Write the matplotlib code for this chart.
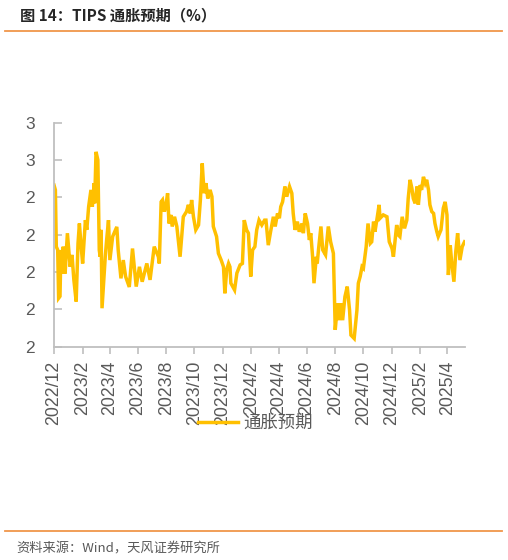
import matplotlib
matplotlib.use("Agg")
import matplotlib.pyplot as plt
import matplotlib.dates as mdates
from matplotlib.ticker import FuncFormatter, MultipleLocator
from matplotlib.lines import Line2D
import numpy as np
import pandas as pd

# days after 2022-12-01
day_offsets = [
    0, 3, 5, 8, 10, 13, 15, 18, 20, 24, 29, 35, 39, 43, 48, 52, 55, 58, 62, 68, 71, 75,
    80, 83, 87, 88, 91, 95, 98, 100, 102, 104, 111, 114, 118, 121, 127, 136, 139,
    145, 150, 155, 163, 170, 178, 185, 191, 201, 208, 217, 226, 228,
    232, 235, 239, 242, 246, 249, 253, 256, 261, 266, 273, 277, 280, 287, 291,
    295, 298, 302, 307, 313, 317, 321, 325, 329, 333, 338, 342, 345, 352, 356,
    362, 367, 370, 374, 378, 381, 383, 391, 396, 403, 408, 412, 417, 421, 426,
    430, 435, 439, 444, 450, 456,
    459, 464, 469, 475, 479, 484, 488, 491, 495, 500, 504, 510, 515, 518, 522,
    527, 531, 537, 540, 544, 549, 553, 556, 560, 563, 568, 570, 573, 578, 582,
    588, 594, 599, 605, 609, 614, 618, 621, 625, 630, 635, 640, 643, 650, 656,
    659, 663, 667, 670, 676, 680, 685,
    688, 692, 695, 699, 704, 706, 713, 721, 726, 732, 735, 739, 742, 746, 749,
    754, 759, 764, 767, 771, 775, 778, 782, 786, 789, 793, 796, 800, 804, 807,
    811, 814, 818, 822, 825, 829, 832, 838, 843, 847, 851, 854, 858, 861, 866,
    870, 874, 879, 884, 889,
]
breakeven = [
    2.433, 2.420, 2.268, 2.259, 2.130, 2.135, 2.259, 2.196, 2.268, 2.196, 2.304, 2.214,
    2.246, 2.179, 2.121, 2.277, 2.330, 2.280, 2.223, 2.339, 2.313, 2.375, 2.420, 2.375,
    2.438, 2.384, 2.522, 2.500, 2.259, 2.241, 2.313, 2.103, 2.241, 2.286, 2.339,
    2.232, 2.295, 2.321, 2.259, 2.183, 2.232, 2.188, 2.160, 2.263, 2.161, 2.214,
    2.174, 2.223, 2.179, 2.268, 2.241, 2.223,
    2.388, 2.393, 2.362, 2.375, 2.411, 2.330, 2.353, 2.322, 2.348, 2.322, 2.241,
    2.304, 2.348, 2.362, 2.380, 2.357, 2.393, 2.348, 2.313, 2.326, 2.393, 2.491,
    2.411, 2.438, 2.397, 2.420, 2.402, 2.322, 2.295, 2.250, 2.232, 2.214, 2.143,
    2.206, 2.223, 2.214, 2.170, 2.152, 2.197, 2.219, 2.223, 2.339, 2.313, 2.304,
    2.188, 2.259, 2.268, 2.313, 2.339, 2.326, 2.339,
    2.339, 2.272, 2.308, 2.348, 2.322, 2.357, 2.344, 2.375, 2.388, 2.429, 2.402,
    2.429, 2.411, 2.357, 2.313, 2.335, 2.308, 2.330, 2.304, 2.357, 2.330, 2.286,
    2.304, 2.241, 2.170, 2.241, 2.223, 2.263, 2.322, 2.259, 2.246, 2.322, 2.281,
    2.250, 2.045, 2.116, 2.071, 2.116, 2.071, 2.134, 2.161, 2.098, 2.031, 2.022,
    2.098, 2.170, 2.188, 2.214, 2.210, 2.268, 2.330, 2.277,
    2.281, 2.335, 2.308, 2.339, 2.380, 2.344, 2.353, 2.348, 2.281, 2.263, 2.241,
    2.290, 2.326, 2.299, 2.295, 2.348, 2.317, 2.339, 2.397, 2.447, 2.424, 2.397,
    2.384, 2.429, 2.380, 2.433, 2.420, 2.455, 2.438, 2.447, 2.420, 2.380, 2.362,
    2.357, 2.330, 2.308, 2.295, 2.313, 2.371, 2.388, 2.353, 2.192, 2.272, 2.228,
    2.174, 2.254, 2.304, 2.232, 2.268, 2.281,
]
start_date = "2022-12-01"
series_name = "通胀预期"
title = "图 14：TIPS 通胀预期（%）"
source = "资料来源：Wind，天风证券研究所"

dates = pd.Timestamp(start_date) + pd.to_timedelta(day_offsets, unit="D")

gold = "#FFC000"
grey_txt = "#595959"
grey_ax = "#BFBFBF"
orange = "#F0964A"
cjk = ["Noto Sans CJK SC", "DejaVu Sans"]

fig = plt.figure(figsize=(5.08, 5.6), dpi=100)
ax = fig.add_axes([54 / 508, 1 - 346.7 / 560, (465 - 54) / 508, (346.7 - 122.7) / 560])

ax.plot(dates, breakeven, color=gold, lw=2.5, solid_joinstyle="miter")

ax.set_ylim(2.0, 2.6)
ax.yaxis.set_major_locator(MultipleLocator(0.1))
ax.yaxis.set_major_formatter(FuncFormatter(lambda v, p: str(int(np.floor(v + 0.5 + 1e-9)))))
ax.set_xlim(pd.Timestamp(start_date), pd.Timestamp(start_date) + pd.Timedelta(days=890))
ax.xaxis.set_major_locator(mdates.MonthLocator(bymonth=[2, 4, 6, 8, 10, 12]))
ax.xaxis.set_major_formatter(FuncFormatter(lambda v, p: "%d/%d" % (mdates.num2date(v).year, mdates.num2date(v).month)))

for s in ["top", "right"]:
    ax.spines[s].set_visible(False)
for s in ["left", "bottom"]:
    ax.spines[s].set_color(grey_ax)
    ax.spines[s].set_linewidth(1.3)

ax.tick_params(axis="y", direction="in", length=6, width=1.2, color=grey_ax,
               labelsize=12.5, labelcolor=grey_txt, pad=14)
ax.tick_params(axis="x", direction="out", length=5, width=1.2, color=grey_ax,
               labelsize=12.8, labelcolor=grey_txt, pad=5, labelrotation=90)
for lab in ax.get_xticklabels() + ax.get_yticklabels():
    lab.set_fontfamily("Liberation Sans")

handle = Line2D([], [], color=gold, lw=2.5)
leg = fig.legend([handle], [series_name], loc="center", bbox_to_anchor=(0.503, 1 - 423 / 560),
                 frameon=False, handlelength=2.3, handletextpad=0.3,
                 prop={"family": cjk, "size": 12.5})
for t in leg.get_texts():
    t.set_color(grey_txt)

fig.text(20 / 508, 1 - 15 / 560, title, ha="left", va="center", fontsize=11,
         fontweight="bold", family=cjk, color="#262626")
fig.add_artist(Line2D([5 / 508, 502 / 508], [1 - 31 / 560] * 2, color=orange, lw=1.3))
fig.add_artist(Line2D([5 / 508, 502 / 508], [1 - 530.7 / 560] * 2, color=orange, lw=1.3))
fig.text(16 / 508, 1 - 549 / 560, source, ha="left", va="center", fontsize=9.5,
         family=cjk, color=grey_txt)

fig.savefig("out.png", dpi=100)
